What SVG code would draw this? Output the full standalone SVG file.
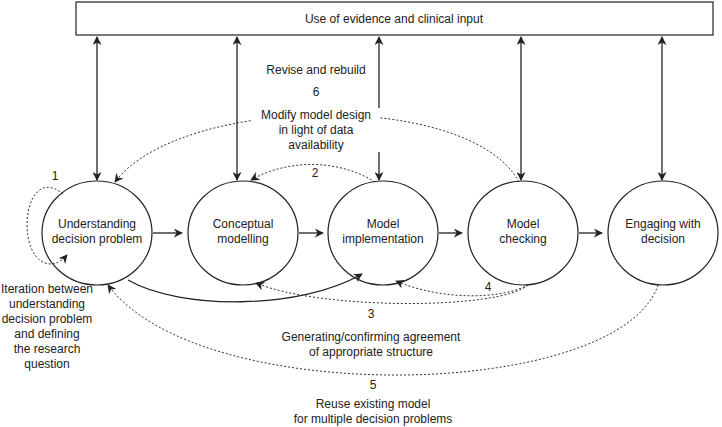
<svg xmlns="http://www.w3.org/2000/svg" width="722" height="427" viewBox="0 0 722 427">
<style>
text{font-family:"Liberation Sans",Arial,sans-serif;font-size:12px;fill:#222;text-anchor:middle}
.n{fill:#fff;stroke:#222;stroke-width:1.2}
.s{fill:none;stroke:#222;stroke-width:1.3}
.d{fill:none;stroke:#333;stroke-width:1;stroke-dasharray:2 2}
.bg{fill:#fff}
</style>
<defs>
<marker id="a" viewBox="0 0 10 10" refX="9" refY="5" markerWidth="9" markerHeight="9" orient="auto-start-reverse" markerUnits="userSpaceOnUse"><path d="M0,0L10,5L0,10L3,5z" fill="#222"/></marker>
</defs>
<rect width="722" height="427" fill="#fff"/>
<g id="evidence"><rect x="76" y="2" width="637" height="33" class="n"/><text x="394" y="23">Use of evidence and clinical input</text></g>
<g id="n1"><ellipse cx="97" cy="233" rx="55" ry="52" class="n"/><text x="97" y="228">Understanding</text><text x="97" y="243">decision problem</text></g>
<g id="n2"><ellipse cx="243" cy="233" rx="55" ry="52" class="n"/><text x="243" y="228">Conceptual</text><text x="243" y="243">modelling</text></g>
<g id="n3"><ellipse cx="383" cy="233" rx="55" ry="52" class="n"/><text x="383" y="228">Model</text><text x="383" y="243">implementation</text></g>
<g id="n4"><ellipse cx="523" cy="233" rx="55" ry="52" class="n"/><text x="523" y="228">Model</text><text x="523" y="243">checking</text></g>
<g id="n5"><ellipse cx="663" cy="233" rx="55" ry="52" class="n"/><text x="663" y="228">Engaging with</text><text x="663" y="243">decision</text></g>
<g id="connectors">
<path class="s" d="M97,37V180" marker-start="url(#a)" marker-end="url(#a)"/>
<path class="s" d="M237,37V180" marker-start="url(#a)" marker-end="url(#a)"/>
<path class="s" d="M379,37V180" marker-start="url(#a)" marker-end="url(#a)"/>
<path class="s" d="M521,37V180" marker-start="url(#a)" marker-end="url(#a)"/>
<path class="s" d="M662,37V180" marker-start="url(#a)" marker-end="url(#a)"/>
<path class="s" d="M153,233H182" marker-end="url(#a)"/>
<path class="s" d="M299,233H323" marker-end="url(#a)"/>
<path class="s" d="M439,233H462" marker-end="url(#a)"/>
<path class="s" d="M579,233H602" marker-end="url(#a)"/>
<path class="s" d="M128,280C180,310 300,310 362,274" marker-end="url(#a)"/>
<path class="d" d="M519,182C470,90 180,95 115,182" marker-end="url(#a)"/>
<path class="d" d="M375,182C340,160 290,158 251,180" marker-end="url(#a)"/>
<path class="d" d="M528,285C500,310 320,310 256,283" marker-end="url(#a)"/>
<path class="d" d="M528,285C500,300 440,300 396,281" marker-end="url(#a)"/>
<path class="d" d="M658,285C620,400 200,410 108,285" marker-end="url(#a)"/>
<path class="d" d="M63,194C40,175 27,200 27,225C27,260 50,275 67,255" marker-end="url(#a)"/>
</g>
<g id="labels">
<rect class="bg" x="252" y="108" width="128" height="44"/>
<text x="316" y="74">Revise and rebuild</text>
<text x="316" y="96">6</text>
<text x="316" y="119">Modify model design</text>
<text x="316" y="134">in light of data</text>
<text x="316" y="149">availability</text>
<text x="315" y="177">2</text>
<text x="55" y="180">1</text>
<text x="488" y="291">4</text>
<text x="371" y="318">3</text>
<text x="371" y="341">Generating/confirming agreement</text>
<text x="371" y="356">of appropriate structure</text>
<text x="373" y="389">5</text>
<text x="373" y="408">Reuse existing model</text>
<text x="373" y="423">for multiple decision problems</text>
<text x="47" y="293">Iteration between</text>
<text x="47" y="308">understanding</text>
<text x="47" y="323">decision problem</text>
<text x="47" y="338">and defining</text>
<text x="47" y="353">the research</text>
<text x="47" y="368">question</text>
</g>
</svg>
